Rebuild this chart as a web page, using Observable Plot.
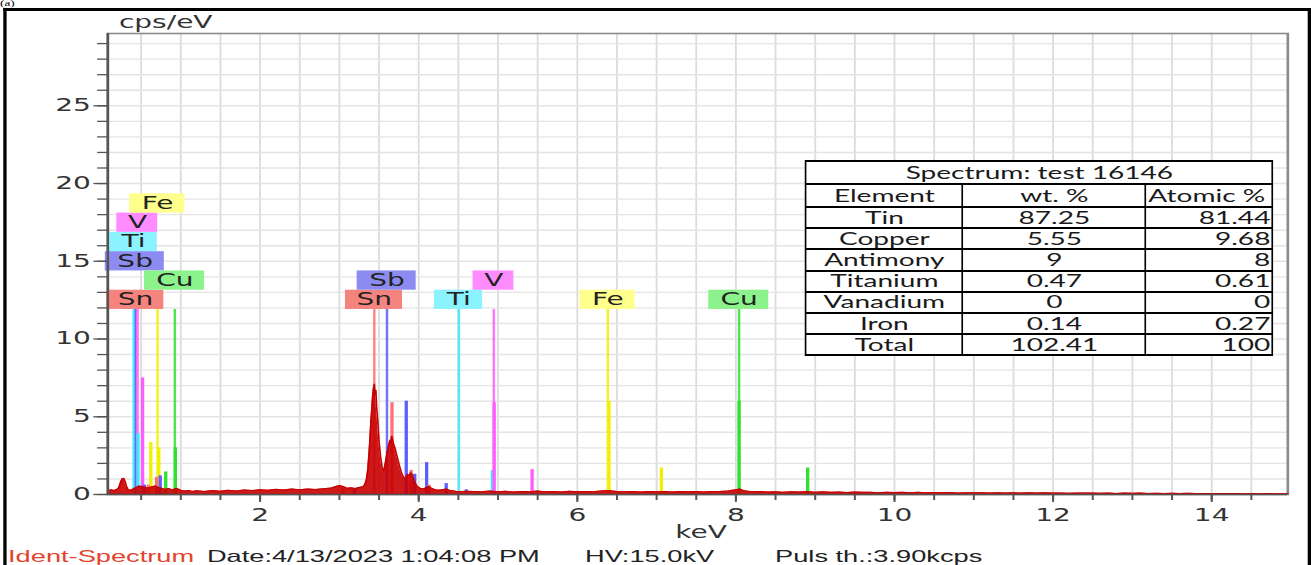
<!DOCTYPE html>
<html>
<head>
<meta charset="utf-8">
<script src="https://cdn.jsdelivr.net/npm/d3@7"></script>
<script src="https://cdn.jsdelivr.net/npm/@observablehq/plot@0.6"></script>
<style>
html, body { margin: 0; padding: 0; background: #fff; overflow: hidden; width: 1311px; height: 565px; }
#stage { position: relative; width: 795px; height: 565px; transform: scaleX(1.64906); transform-origin: 0 0; }
#frame { position: absolute; left: 2.4px; top: 8px; width: 792.6px; height: 700px; box-sizing: border-box;
  border-style: solid; border-color: #000; border-width: 3px 2.4px 0 2.4px; }
#tag { position: absolute; left: 0px; top: 0px; font: 8px "Liberation Serif", serif; color: #000; line-height: 8px; }
#plot { position: absolute; left: 0; top: 0; }
#tbl { position: absolute; left: 488.2px; top: 160px; width: 283.2px; border-collapse: collapse; background: #fff;
  font-family: Lato, "Liberation Sans", sans-serif; font-size: 17px; color: #1a1a1a; table-layout: fixed; }
#tbl td { border-style: solid; border-color: #000; border-width: 2px 1.8px; padding: 0 1px; text-align: center;
  white-space: nowrap; line-height: 18px; overflow: hidden; }
#tbl tr { height: 21.2px; }
#tbl tr.h { height: 23px; }
#tbl td.r { text-align: right; }
#tbl td.l { text-align: left; }
.foot { position: absolute; top: 547.5px; font: 16.5px "Liberation Sans", Arial, sans-serif; line-height: 17px; color: #222; white-space: nowrap; }
</style>
</head>
<body>
<div id="stage">
  <div id="tag">(a)</div>
  <div id="frame"></div>
  <div id="plot"></div>
  <table id="tbl"></table>
  <div class="foot" style="left:4.9px;color:#e5432d">Ident-Spectrum</div>
  <div class="foot" style="left:125.5px">Date:4/13/2023 1:04:08 PM</div>
  <div class="foot" style="left:354.8px">HV:15.0kV</div>
  <div class="foot" style="left:470px">Puls th.:3.90kcps</div>
</div>
<script>
// ---------- DATA ----------
const specKeV = [0.08,0.12,0.16,0.20,0.22,0.24,0.26,0.28,0.30,0.32,0.34,0.37,0.40,0.44,0.48,0.52,0.56,0.60,0.64,0.68,
  0.72,0.76,0.80,0.85,0.90,0.95,1.00,1.05,1.10,1.15,1.20,1.30,1.40,1.50,1.60,1.70,1.80,1.90,2.00,2.10,
  2.20,2.30,2.40,2.50,2.60,2.70,2.80,2.90,2.95,3.00,3.05,3.10,3.15,3.20,3.25,3.30,3.32,3.34,3.36,3.38,
  3.40,3.41,3.42,3.43,3.44,3.45,3.46,3.47,3.48,3.49,3.50,3.52,3.54,3.56,3.58,3.60,3.62,3.64,3.65,3.66,
  3.67,3.68,3.70,3.72,3.74,3.76,3.78,3.80,3.82,3.84,3.86,3.88,3.90,3.92,3.94,3.96,3.98,4.00,4.03,4.06,
  4.10,4.13,4.16,4.20,4.25,4.30,4.35,4.40,4.45,4.50,4.60,4.70,4.80,4.90,5.00,5.10,5.20,5.30,5.40,5.50,
  5.60,5.70,5.80,5.90,6.00,6.10,6.20,6.30,6.40,6.50,6.60,6.70,6.80,6.90,7.00,7.10,7.20,7.30,7.40,7.50,
  7.60,7.70,7.80,7.90,8.00,8.05,8.10,8.20,8.30,8.40,8.50,8.60,8.70,8.80,8.90,9.00,9.10,9.20,9.30,9.40,
  9.50,9.60,9.70,9.80,9.90,10.0,10.1,10.2,10.3,10.4,10.5,10.6,10.7,10.8,10.9,11.0,11.1,11.2,11.3,11.4,
  11.5,11.6,11.7,11.8,11.9,12.0,12.1,12.2,12.3,12.4,12.5,12.6,12.7,12.8,12.9,13.0,13.1,13.2,13.3,13.4,
  13.5,13.6,13.7,13.8,13.9,14.0,14.1,14.2,14.3,14.4,14.5,14.6,14.7,14.8,14.96];
const specCps = [0.22,0.30,0.26,0.33,0.45,0.75,1.00,1.05,0.80,0.45,0.30,0.28,0.35,0.45,0.55,0.50,0.45,0.42,0.50,0.55,
  0.45,0.40,0.33,0.38,0.30,0.40,0.28,0.22,0.26,0.20,0.24,0.19,0.25,0.21,0.27,0.23,0.29,0.25,0.30,0.27,
  0.33,0.29,0.35,0.31,0.36,0.32,0.37,0.42,0.50,0.58,0.52,0.40,0.44,0.38,0.45,0.50,0.62,0.90,1.60,3.00,
  4.80,5.50,6.30,6.80,7.10,6.40,6.70,5.60,5.00,4.20,3.40,2.40,1.70,1.50,2.00,2.60,3.10,3.50,3.30,3.75,
  3.55,3.30,3.00,2.60,2.20,1.80,1.45,1.20,1.00,1.10,1.30,1.20,1.40,1.25,0.95,0.70,0.55,0.45,0.38,0.35,
  0.45,0.52,0.40,0.32,0.28,0.30,0.36,0.25,0.22,0.18,0.21,0.20,0.17,0.22,0.18,0.21,0.16,0.20,0.18,0.22,
  0.17,0.20,0.16,0.21,0.18,0.20,0.17,0.22,0.26,0.19,0.17,0.20,0.16,0.19,0.17,0.20,0.16,0.19,0.17,0.20,
  0.16,0.19,0.20,0.22,0.30,0.36,0.25,0.18,0.20,0.16,0.18,0.15,0.18,0.16,0.20,0.15,0.17,0.14,0.16,0.13,
  0.16,0.14,0.15,0.12,0.15,0.13,0.14,0.12,0.14,0.11,0.13,0.12,0.13,0.10,0.12,0.11,0.12,0.10,0.12,0.10,
  0.11,0.09,0.11,0.10,0.11,0.09,0.10,0.08,0.10,0.09,0.10,0.08,0.09,0.07,0.09,0.08,0.09,0.07,0.08,0.07,
  0.08,0.06,0.08,0.07,0.07,0.06,0.07,0.06,0.07,0.05,0.06,0.05,0.06,0.05,0.05];

// element identification labels (stack slot 0 = lowest)
const labelEl   = ["Sn","Cu","Sb","Ti","V","Fe","Sn","Sb","Ti","V","Fe","Cu"];
const labelKeV  = [0.43,0.925,0.424,0.404,0.455,0.707,3.44,3.60,4.506,4.947,6.385,8.04];
const labelSlot = [0,1,2,3,4,5,0,1,0,1,0,0];

// characteristic line markers (relative intensity heights, cps/eV)
const peakEl  = ["V","Ti","Fe","Fe","Cu","Cu","Sb","Sn","Sb","Sn",
                 "Sn","Sb","Sn","Sb","Sn","Sb","Sb","Sn","Sb","Sb","Ti","V","V","Fe","Fe","Cu","Cu"];
const peakKeV = [0.518,0.46,0.622,0.723,0.931,0.81,0.74,0.694,0.54,0.59,
                 3.045,3.19,3.663,3.843,3.905,3.95,4.10,4.131,4.347,4.60,4.93,4.952,5.43,6.40,7.06,8.04,8.905];
const peakCps = [7.5,3.9,3.35,3.0,3.0,1.45,1.2,1.1,0.6,0.6,
                 0.35,0.4,5.9,6.0,1.55,1.3,2.05,0.6,0.7,0.3,1.55,5.9,1.6,6.0,1.7,6.0,1.7];

// quantification table
const tableTitle = "Spectrum: test 16146";
const tableHeader = ["Element", "wt. %", "Atomic %"];
const tableElements = ["Tin","Copper","Antimony","Titanium","Vanadium","Iron","Total"];
const wtPct = [87.25, 5.55, 9, 0.47, 0, 0.14, 102.41];
const atPct = [81.44, 9.68, 8, 0.61, 0, 0.27, 100];

const xTicks = [2, 4, 6, 8, 10, 12, 14];
const yTicks = [0, 5, 10, 15, 20, 25];

// ---------- STYLE ----------
const lineColor = {Sn:"#ff7070", Sb:"#5c5cff", Ti:"#3de6ff", V:"#ff5cff", Fe:"#f0f000", Cu:"#30e030"};
const boxColor  = {Sn:"#f5847e", Sb:"#8b8bf2", Ti:"#8af3ff", V:"#ff8cff", Fe:"#ffff8c", Cu:"#8cf28c"};
const boxHalf   = {Sn:17.3, Sb:17.9, Ti:14.6, V:12.4, Fe:16.7, Cu:18.2};
const LABEL_BASE = 11.9, LABEL_STEP = 1.24;
const X0 = 0.08, X1 = 14.96;

const spectrum = specKeV.map((e, i) => ({e, c: specCps[i]}));
const labels = labelEl.map((el, i) => ({el, e: labelKeV[i], slot: labelSlot[i]}));
const peaks = peakEl.map((el, i) => ({el, e: peakKeV[i], h: peakCps[i]}));

const boxMarks = Object.keys(boxColor).map(el =>
  Plot.rect(labels.filter(d => d.el === el), {
    x1: "e", x2: "e",
    y1: d => LABEL_BASE + d.slot * LABEL_STEP,
    y2: d => LABEL_BASE + (d.slot + 1) * LABEL_STEP,
    insetLeft: -boxHalf[el], insetRight: -boxHalf[el],
    fill: boxColor[el]
  })
);

const chart = Plot.plot({
  width: 795, height: 565,
  marginLeft: 64.9, marginRight: 14.55, marginTop: 33, marginBottom: 71,
  x: {domain: [X0, X1]},
  y: {domain: [0, 29.65]},
  color: {type: "identity"},
  style: {fontFamily: "'DejaVu Sans', sans-serif", fontSize: "17px", background: "transparent", color: "#333", overflow: "visible"},
  marks: [
    Plot.gridX({ticks: d3.range(0.5, 15, 0.5), stroke: "#dcdcdc", strokeOpacity: 1, strokeWidth: 1.1}),
    Plot.gridY({ticks: d3.range(1, 30, 1), stroke: "#e4e4e4", strokeOpacity: 1, strokeWidth: 1.4}),
    Plot.frame({stroke: "#8a8a8a", strokeWidth: 1.6}),
    // tall identification lines
    Plot.ruleX(labels, {x: "e", y1: 0, y2: LABEL_BASE, stroke: d => lineColor[d.el], strokeWidth: 1.5, strokeOpacity: 0.85}),
    // relative intensity lines
    Plot.ruleX(peaks, {x: "e", y1: 0, y2: "h", stroke: d => lineColor[d.el], strokeWidth: 2}),
    // spectrum
    Plot.areaY(spectrum, {x: "e", y: "c", fill: "#c80000", fillOpacity: 0.9, curve: "linear"}),
    Plot.lineY(spectrum, {x: "e", y: "c", stroke: "#c80000", strokeWidth: 1}),
    // label boxes and text
    ...boxMarks,
    Plot.text(labels, {x: "e", y: d => LABEL_BASE + (d.slot + 0.5) * LABEL_STEP, text: "el", fill: "#222", fontSize: 17}),
    // axes
    Plot.ruleX([X0], {stroke: "#555", strokeWidth: 1.5}),
    Plot.ruleY([0], {stroke: "#555", strokeWidth: 1.5}),
    Plot.axisY({ticks: yTicks, tickSize: 8.3, tickPadding: 2, label: null, stroke: "#555", strokeWidth: 1.3, fontSize: 17}),
    Plot.axisY({ticks: d3.range(0, 30, 1), tickSize: 6, text: null, label: null, stroke: "#555", strokeWidth: 1.3}),
    Plot.axisX({ticks: xTicks, tickSize: 8, tickPadding: 6, label: null, stroke: "#555", strokeWidth: 1.2, fontSize: 17}),
    Plot.axisX({ticks: d3.range(0.5, 15, 0.5), tickSize: 6, text: null, label: null, stroke: "#555", strokeWidth: 1.2}),
    Plot.text(["cps/eV"], {text: d => d, frameAnchor: "top-left", dx: 6.7, dy: -11, textAnchor: "start", lineAnchor: "middle", fill: "#333", fontSize: 17}),
    Plot.text(["keV"], {text: d => d, frameAnchor: "bottom", dx: 2, dy: 38, lineAnchor: "middle", fill: "#333", fontSize: 17})
  ]
});
document.getElementById("plot").appendChild(chart);

// table
const tbl = document.getElementById("tbl");
const cg = document.createElement("colgroup");
[95.2, 111, 77].forEach(w => { const c = document.createElement("col"); c.style.width = w + "px"; cg.appendChild(c); });
tbl.appendChild(cg);
let tr = tbl.insertRow(); tr.className = "h";
let td = tr.insertCell(); td.colSpan = 3; td.textContent = tableTitle;
tr = tbl.insertRow(); tr.className = "h";
tableHeader.forEach((t, i) => { const c = tr.insertCell(); c.textContent = t; if (i === 2) c.className = "l"; });
tableElements.forEach((name, i) => {
  const r = tbl.insertRow();
  r.insertCell().textContent = name;
  r.insertCell().textContent = String(wtPct[i]);
  const c = r.insertCell(); c.textContent = String(atPct[i]); c.className = "r";
});
</script>
</body>
</html>
